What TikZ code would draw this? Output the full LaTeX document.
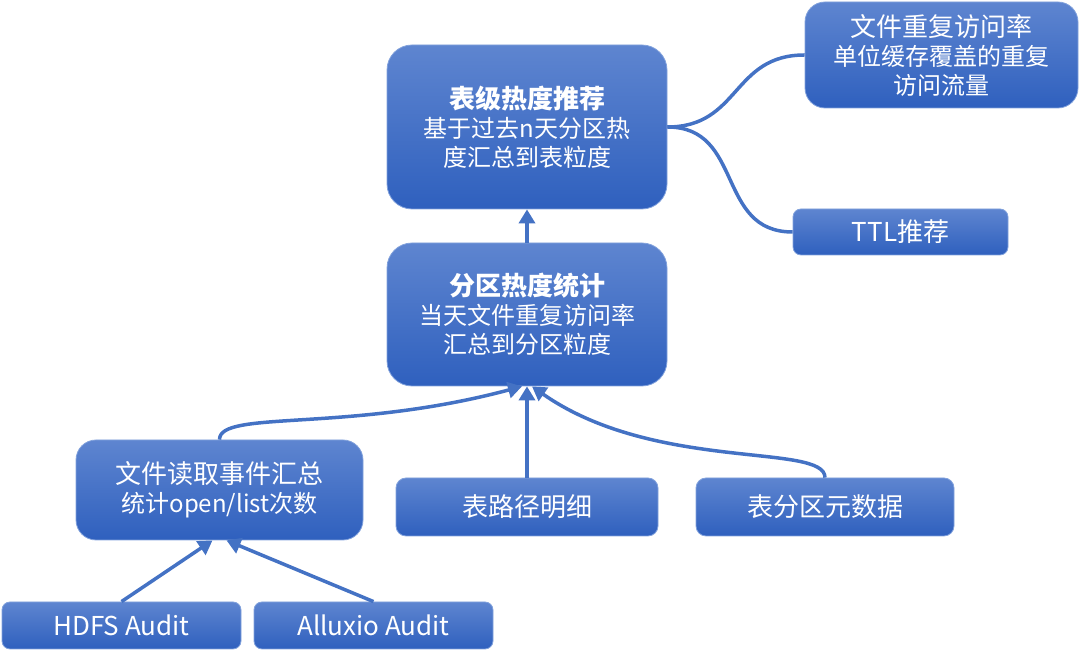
\documentclass[tikz,border=0pt]{standalone}
\usepackage{fontspec}
\setmainfont{Noto Sans CJK SC}
\usepackage{tikz}
\usetikzlibrary{arrows.meta}
\definecolor{boxtop}{RGB}{94,133,208}
\definecolor{boxbot}{RGB}{47,96,190}
\definecolor{boxrim}{RGB}{130,162,220}
\definecolor{linkblue}{RGB}{68,114,196}
\tikzstyle{card}=[rectangle, rounded corners=10pt, draw=boxrim, line width=0.8pt, top color=boxtop, bottom color=boxbot, text=white, align=center, inner sep=0pt, font=\fontsize{24}{29}\selectfont]
\tikzstyle{tie}=[draw=linkblue, line width=3.5pt]
\tikzstyle{flow}=[tie, -{Triangle[length=14pt,width=16pt]}]
\newcommand{\card}{\node[card]}
\newcommand{\cardhead}[1]{{\fontsize{26}{30}\selectfont #1}}

\begin{document}
\begin{tikzpicture}[x=1pt,y=1pt]
	\useasboundingbox (0,0) rectangle (1080,660);
	%% upper column: the two summary boxes
	\card (tbl) at (527,533) [minimum width=280pt, minimum height=164pt, rounded corners=25pt]
		{\cardhead{\bfseries 表级热度推荐}\\基于过去n天分区热\\度汇总到表粒度};
	\card (part) at (527,345.5) [minimum width=280pt, minimum height=143pt, rounded corners=25pt]
		{\cardhead{\bfseries 分区热度统计}\\当天文件重复访问率\\汇总到分区粒度};
	%% right side: what the table heat is used for
	\card (rate) at (941.5,605) [minimum width=273pt, minimum height=106pt, rounded corners=20pt]
		{\cardhead{文件重复访问率}\\单位缓存覆盖的重复\\访问流量};
	\card (ttl) at (900.5,428) [minimum width=215pt, minimum height=46pt, rounded corners=8pt]
		{\cardhead{TTL推荐}};
	%% lower row: the inputs
	\card (read) at (219.5,170) [minimum width=287pt, minimum height=100pt, rounded corners=20pt]
		{\cardhead{文件读取事件汇总}\\统计open/list次数};
	\card (paths) at (527,153) [minimum width=262pt, minimum height=58pt]
		{\cardhead{表路径明细}};
	\card (meta) at (825,153) [minimum width=258pt, minimum height=58pt]
		{\cardhead{表分区元数据}};
	\card (hdfs) at (121.5,34.5) [minimum width=239pt, minimum height=47pt, rounded corners=8pt]
		{\cardhead{HDFS Audit}};
	\card (alx) at (373.5,34.5) [minimum width=239pt, minimum height=47pt, rounded corners=8pt]
		{\cardhead{Alluxio Audit}};
	\path
		(part.north) edge[flow] (tbl.south)
		(tbl.east) edge[tie, out=0, in=180, looseness=1.2] (rate.west)
		(tbl.east) edge[tie, out=0, in=180, looseness=1.2] (ttl.west)
		(read.north) edge[flow, out=90, in=195, out distance=30pt, in distance=180pt] ([xshift=-5pt]part.south)
		(paths.north) edge[flow] (part.south)
		(meta.north) edge[flow, out=90, in=-35, out distance=35pt, in distance=150pt] ([xshift=5pt]part.south)
		(hdfs.north) edge[flow] ([xshift=-7pt]read.south)
		(alx.north) edge[flow] ([xshift=7pt]read.south)
	;   % end of the connectors
\end{tikzpicture}
\end{document}
